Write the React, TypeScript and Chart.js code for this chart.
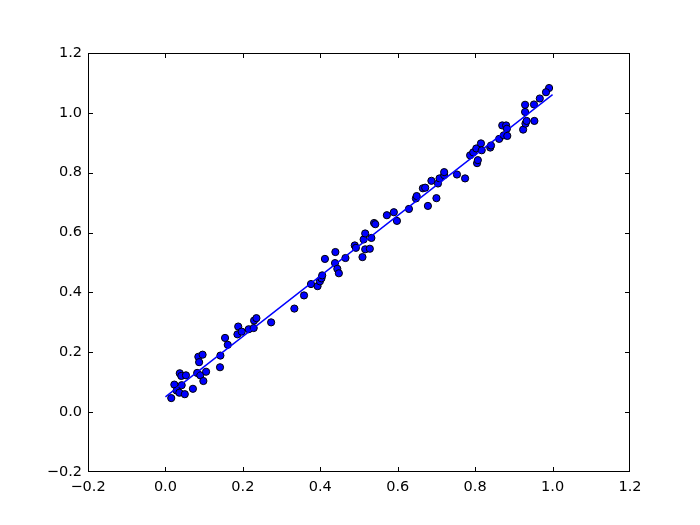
import React, { useEffect, useRef } from "react";
import { Chart, registerables } from "chart.js";

Chart.register(...registerables);

const pointX = [
  0.015, 0.023, 0.029, 0.036, 0.042, 0.050, 0.037, 0.041, 0.053, 0.071,
  0.082, 0.090, 0.098, 0.105, 0.085, 0.096, 0.087, 0.141, 0.142, 0.154,
  0.161, 0.186, 0.188, 0.197, 0.215, 0.228, 0.229, 0.235, 0.273,
  0.333, 0.358, 0.376, 0.393, 0.399, 0.403, 0.405, 0.412, 0.439, 0.438,
  0.444, 0.448, 0.465, 0.489, 0.492, 0.509, 0.516, 0.528, 0.512, 0.516,
  0.532, 0.539, 0.542, 0.572, 0.590, 0.598, 0.629, 0.647, 0.649,
  0.678, 0.665, 0.671, 0.687, 0.700, 0.704, 0.708, 0.720, 0.720, 0.753,
  0.774, 0.787, 0.795, 0.803, 0.815, 0.817, 0.805, 0.807, 0.839, 0.841,
  0.862, 0.870, 0.880, 0.882, 0.874, 0.883, 0.924, 0.930, 0.933, 0.953,
  0.991, 0.983, 0.967, 0.952, 0.929, 0.929,
];
const pointY = [
  0.047, 0.092, 0.072, 0.065, 0.090, 0.060, 0.130, 0.121, 0.123, 0.078,
  0.131, 0.123, 0.104, 0.135, 0.185, 0.192, 0.167, 0.150, 0.189, 0.248,
  0.225, 0.260, 0.286, 0.269, 0.277, 0.281, 0.306, 0.314, 0.300,
  0.346, 0.390, 0.428, 0.421, 0.437, 0.447, 0.457, 0.512, 0.535, 0.498,
  0.479, 0.464, 0.515, 0.557, 0.549, 0.518, 0.544, 0.546, 0.577, 0.597,
  0.582, 0.632, 0.628, 0.658, 0.668, 0.639, 0.679, 0.714, 0.722,
  0.689, 0.748, 0.750, 0.773, 0.715, 0.764, 0.781, 0.792, 0.802, 0.794,
  0.781, 0.858, 0.868, 0.881, 0.898, 0.875, 0.832, 0.842, 0.884, 0.891,
  0.913, 0.958, 0.958, 0.947, 0.925, 0.923, 0.944, 0.964, 0.973, 0.973,
  1.083, 1.069, 1.048, 1.028, 1.027, 1.003,
];
const fitX = [0.0, 1.0];
const fitY = [0.051, 1.061];
const tickValues = [-0.2, 0.0, 0.2, 0.4, 0.6, 0.8, 1.0, 1.2];

const fmt = (v: number) => v.toFixed(1).replace("-", "\u2212");

const frameAndTicks = {
  id: "frameAndTicks",
  afterDraw(chart: any) {
    const { ctx, chartArea } = chart;
    const { left, right, top, bottom } = chartArea;
    const len = 5;
    ctx.save();
    ctx.strokeStyle = "#000000";
    ctx.lineWidth = 1;
    ctx.strokeRect(left + 0.5, top + 0.5, right - left - 1, bottom - top - 1);
    const xs = chart.scales.x;
    const ys = chart.scales.y;
    ctx.beginPath();
    xs.ticks.forEach((t: any) => {
      if (t.value <= xs.min || t.value >= xs.max) return;
      const px = Math.round(xs.getPixelForValue(t.value)) + 0.5;
      ctx.moveTo(px, bottom);
      ctx.lineTo(px, bottom - len);
      ctx.moveTo(px, top);
      ctx.lineTo(px, top + len);
    });
    ys.ticks.forEach((t: any) => {
      if (t.value <= ys.min || t.value >= ys.max) return;
      const py = Math.round(ys.getPixelForValue(t.value)) + 0.5;
      ctx.moveTo(left, py);
      ctx.lineTo(left + len, py);
      ctx.moveTo(right, py);
      ctx.lineTo(right - len, py);
    });
    ctx.stroke();
    ctx.restore();
  },
};

export default function App() {
  const ref = useRef<HTMLCanvasElement | null>(null);
  useEffect(() => {
    document.body.style.margin = "0";
    const canvas = ref.current;
    if (!canvas) return;
    const font = { family: "DejaVu Sans", size: 14.5 };
    const chart = new Chart(canvas, {
      type: "scatter",
      data: {
        datasets: [
          {
            type: "line",
            data: fitX.map((x, i) => ({ x, y: fitY[i] })),
            borderColor: "#0000ff",
            borderWidth: 1.4,
            pointRadius: 0,
            fill: false,
          } as any,
          {
            data: pointX.map((x, i) => ({ x, y: pointY[i] })),
            backgroundColor: "#0000ff",
            borderColor: "#000000",
            borderWidth: 1,
            pointRadius: 3.6,
          },
        ],
      },
      options: {
        animation: false,
        responsive: false,
        devicePixelRatio: 1,
        layout: { padding: { left: 0, right: 70, top: 53, bottom: 0 } },
        plugins: { legend: { display: false }, tooltip: { enabled: false } },
        scales: {
          x: {
            type: "linear",
            min: -0.2,
            max: 1.2,
            afterBuildTicks: (s: any) => {
              s.ticks = tickValues.map((v) => ({ value: v }));
            },
            afterFit: (s: any) => {
              s.height = 53;
            },
            grid: { display: false, drawTicks: false },
            border: { display: false },
            ticks: {
              color: "#000000",
              font,
              padding: 7,
              maxRotation: 0,
              callback: (v: any) => fmt(Number(v)),
            },
          },
          y: {
            type: "linear",
            min: -0.2,
            max: 1.2,
            afterBuildTicks: (s: any) => {
              s.ticks = tickValues.map((v) => ({ value: v }));
            },
            afterFit: (s: any) => {
              s.width = 88;
            },
            grid: { display: false, drawTicks: false },
            border: { display: false },
            ticks: {
              color: "#000000",
              font,
              padding: 6,
              callback: (v: any) => fmt(Number(v)),
            },
          },
        },
      },
      plugins: [frameAndTicks],
    });
    return () => chart.destroy();
  }, []);
  return (
    <div style={{ position: "fixed", left: 0, top: 0, width: 700, height: 525, background: "#fff" }}>
      <canvas ref={ref} width={700} height={525} style={{ width: 700, height: 525 }} />
    </div>
  );
}
